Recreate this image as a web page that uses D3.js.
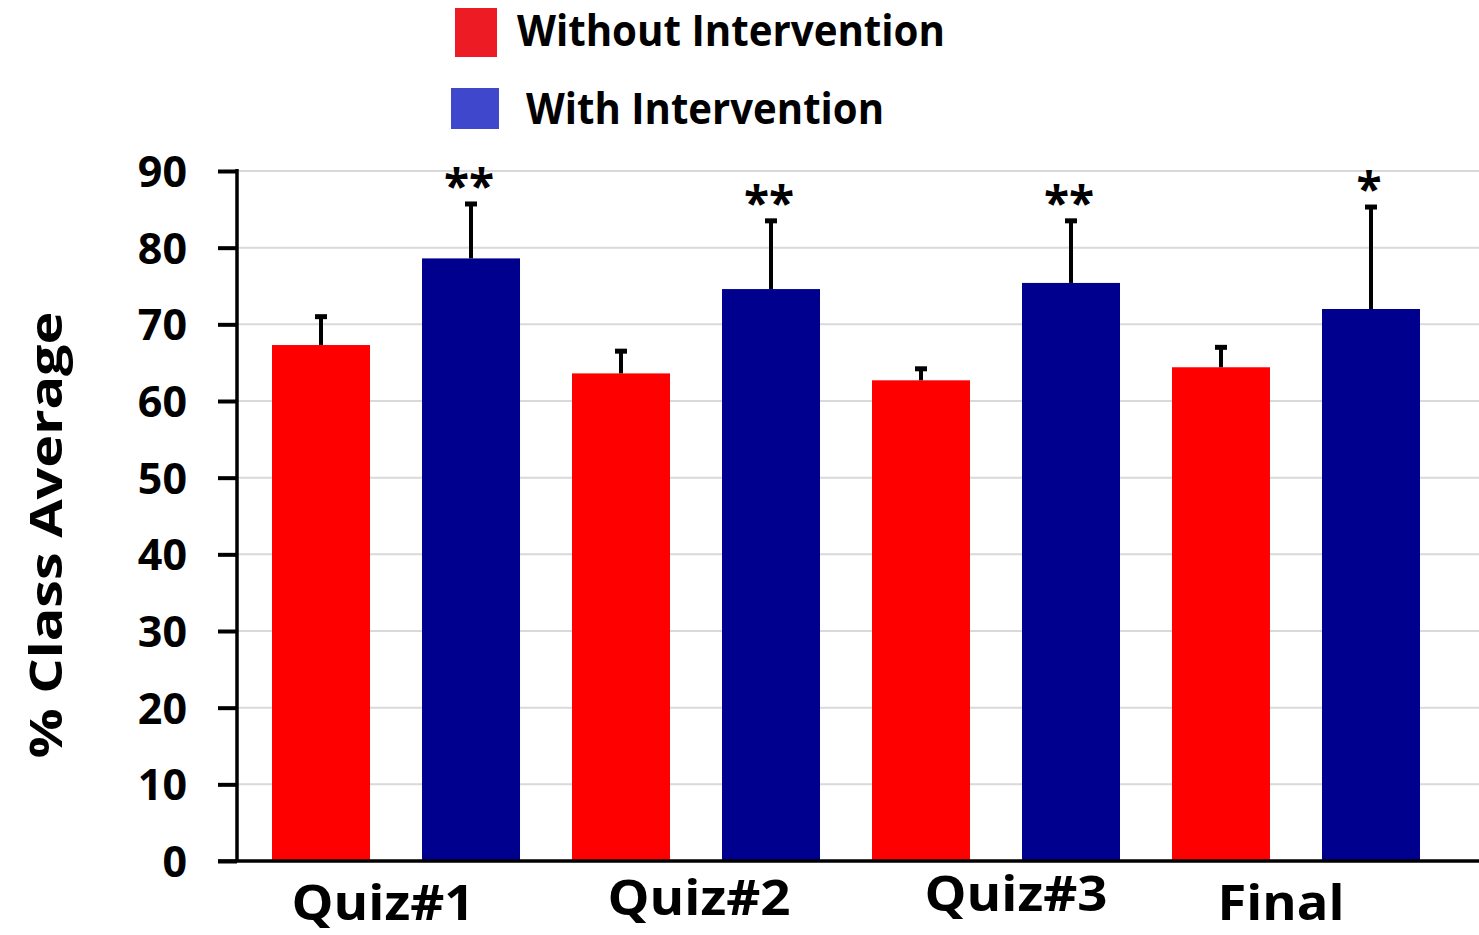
<!DOCTYPE html>
<html>
<head>
<meta charset="utf-8">
<script src="https://cdn.jsdelivr.net/npm/d3@7"></script>
<style>
  html, body { margin: 0; padding: 0; background: #fff; }
  svg { display: block; }
  text { font-family: "Open Sans", "Noto Sans", sans-serif; font-weight: 700; fill: #000; }
</style>
</head>
<body>
<svg id="chart" width="1479" height="935"></svg>
<script>
// ---- data ----
const categories = ["Quiz#1", "Quiz#2", "Quiz#3", "Final"];
const seriesNames = ["Without Intervention", "With Intervention"];
const withoutValues = [67.3, 63.6, 62.7, 64.4];
const withoutErrors = [3.7, 2.9, 1.5, 2.6];
const withValues = [78.6, 74.6, 75.4, 72.0];
const withErrors = [7.1, 8.9, 8.1, 13.3];
const significance = ["**", "**", "**", "*"];
const yTicks = [0, 10, 20, 30, 40, 50, 60, 70, 80, 90];

// ---- layout ----
const W = 1479, H = 935;
const axisX = 237, yBottom = 861, yTop = 171;
const svg = d3.select("#chart");

const y = d3.scaleLinear().domain([0, 90]).range([yBottom, yTop]);
const x0 = d3.scaleBand().domain(categories).range([246, 1446])
  .paddingInner(0.1733).paddingOuter(0.0867);
const x1 = d3.scaleBand().domain(["without", "with"]).range([0, x0.bandwidth()])
  .paddingInner(0.3467).paddingOuter(0);

const barColor = { without: "#FF0000", with: "#00008E" };
const legendColor = ["#ED1C24", "#3F48CC"];

// gridlines
svg.append("g").selectAll("line").data(yTicks.filter(d => d > 0)).join("line")
  .attr("x1", axisX).attr("x2", W)
  .attr("y1", d => y(d)).attr("y2", d => y(d))
  .attr("stroke", "#d9d9d9").attr("stroke-width", 2);

// bars
const rows = categories.map((c, i) => ({
  cat: c, sig: significance[i],
  bars: [
    { key: "without", value: withoutValues[i], err: withoutErrors[i] },
    { key: "with", value: withValues[i], err: withErrors[i] }
  ]
}));

const groups = svg.append("g").selectAll("g").data(rows).join("g")
  .attr("transform", d => `translate(${x0(d.cat)},0)`);

groups.selectAll("rect").data(d => d.bars).join("rect")
  .attr("x", d => x1(d.key))
  .attr("width", x1.bandwidth())
  .attr("y", d => y(d.value))
  .attr("height", d => y(0) - y(d.value))
  .attr("fill", d => barColor[d.key]);

// error bars (upper only)
groups.selectAll("line.err").data(d => d.bars).join("line")
  .attr("class", "err")
  .attr("x1", d => x1(d.key) + x1.bandwidth() / 2)
  .attr("x2", d => x1(d.key) + x1.bandwidth() / 2)
  .attr("y1", d => y(d.value))
  .attr("y2", d => y(d.value + d.err))
  .attr("stroke", "#000").attr("stroke-width", 4);
groups.selectAll("line.cap").data(d => d.bars).join("line")
  .attr("class", "cap")
  .attr("x1", d => x1(d.key) + x1.bandwidth() / 2 - 6)
  .attr("x2", d => x1(d.key) + x1.bandwidth() / 2 + 6)
  .attr("y1", d => y(d.value + d.err))
  .attr("y2", d => y(d.value + d.err))
  .attr("stroke", "#000").attr("stroke-width", 5);

// significance stars
groups.append("text")
  .attr("x", d => x1("with") + x1.bandwidth() / 2 - 2)
  .attr("y", d => y(d.bars[1].value + d.bars[1].err) - 1)
  .attr("text-anchor", "middle")
  .style("font-size", "46px")
  .text(d => d.sig);

// y axis
const yAxis = d3.axisLeft(y).tickValues(yTicks).tickSize(19).tickPadding(31);
const ya = svg.append("g").attr("transform", `translate(${axisX},0)`).call(yAxis);
ya.select(".domain").remove();
ya.selectAll(".tick line").attr("stroke", "#000").attr("stroke-width", 4);
ya.selectAll(".tick text").style("font-size", "43px").attr("fill", "#000")
  .attr("font-family", null).attr("font-size", null).attr("dy", "0.36em");
svg.append("line").attr("x1", axisX).attr("x2", axisX)
  .attr("y1", yTop - 2).attr("y2", yBottom)
  .attr("stroke", "#000").attr("stroke-width", 3.5);
// x axis baseline
svg.append("line").attr("x1", 218).attr("x2", W)
  .attr("y1", yBottom).attr("y2", yBottom)
  .attr("stroke", "#000").attr("stroke-width", 3.5);

// category labels
const labelNudge = [-13, 3, 20, -15];
const labelDy = [920, 915, 911, 920];
svg.append("g").selectAll("text").data(categories).join("text")
  .attr("x", (d, i) => x0(d) + x0.bandwidth() / 2 + labelNudge[i])
  .attr("y", (d, i) => labelDy[i])
  .attr("text-anchor", "middle")
  .style("font-size", "48px")
  .attr("textLength", d => d === "Final" ? 127 : 183)
  .attr("lengthAdjust", "spacingAndGlyphs")
  .text(d => d);

// y title
svg.append("text")
  .attr("transform", "translate(62,535) rotate(-90)")
  .attr("text-anchor", "middle")
  .style("font-size", "44px")
  .attr("textLength", 447)
  .attr("lengthAdjust", "spacingAndGlyphs")
  .text("% Class Average");

// legend
const legendItems = [
  { name: seriesNames[0], color: legendColor[0], rx: 455, ry: 8, rw: 42, rh: 49, tx: 517, ty: 46, tl: 428 },
  { name: seriesNames[1], color: legendColor[1], rx: 451, ry: 88, rw: 48, rh: 41, tx: 526, ty: 124, tl: 358 }
];
const lg = svg.append("g").selectAll("g").data(legendItems).join("g");
lg.append("rect").attr("x", d => d.rx).attr("y", d => d.ry)
  .attr("width", d => d.rw).attr("height", d => d.rh).attr("fill", d => d.color);
lg.append("text").attr("x", d => d.tx).attr("y", d => d.ty)
  .style("font-size", "43px")
  .attr("textLength", d => d.tl).attr("lengthAdjust", "spacingAndGlyphs")
  .text(d => d.name);
</script>
</body>
</html>
